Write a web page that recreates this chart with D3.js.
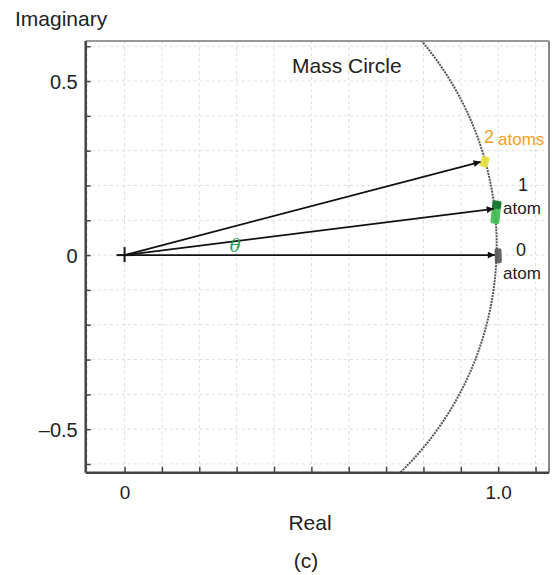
<!DOCTYPE html>
<html>
<head>
<meta charset="utf-8">
<script src="https://cdn.jsdelivr.net/npm/d3@7"></script>
<style>
  body { margin: 0; background: #fff; }
  svg text { font-family: "Liberation Sans", Arial, sans-serif; fill: #222; }
</style>
</head>
<body>
<div id="chart"></div>
<script>
// tick values and labels
var xTicks = [0, 0.1, 0.2, 0.3, 0.4, 0.5, 0.6, 0.7, 0.8, 0.9, 1.0, 1.1];
var xTickLabels = {"0": "0", "1": "1.0"};
var yTicks = [-0.6, -0.5, -0.4, -0.3, -0.2, -0.1, 0, 0.1, 0.2, 0.3, 0.4, 0.5, 0.6];
var yTickLabels = {"-0.5": "\u20130.5", "0": "0", "0.5": "0.5"};

// phasor tips (real, imaginary)
var atomNames = ["0 atom", "1 atom", "2 atoms"];
var tipReal = [0.991, 0.988, 0.953];
var tipImag = [0.000, 0.133, 0.268];
// marker centres on the mass circle
var markReal = [1.000, 0.994, 0.964];
var markImag = [-0.002, 0.123, 0.268];
var markColor = ["#555555", "#3dba4e", "#e6e03c"];

// the mass circle as drawn (centre and radii in data units)
var circleCx = 0.151, circleCy = 0.028, circleRx = 0.845, circleRy = 0.907;

var width = 552, height = 575;
var svg = d3.select("#chart").append("svg")
  .attr("width", width).attr("height", height);

var x = d3.scaleLinear().domain([-0.104, 1.136]).range([85.7, 549]);
var y = d3.scaleLinear().domain([-0.625, 0.615]).range([472.7, 41]);

// grid
var grid = svg.append("g");
grid.selectAll("line.v").data(xTicks.concat([-0.1])).enter().append("line")
  .attr("x1", d => x(d)).attr("x2", d => x(d))
  .attr("y1", y.range()[1]).attr("y2", y.range()[0])
  .attr("stroke", "#dedede").attr("stroke-dasharray", "3,3");
grid.selectAll("line.h").data(yTicks).enter().append("line")
  .attr("y1", d => y(d)).attr("y2", d => y(d))
  .attr("x1", x.range()[0]).attr("x2", x.range()[1])
  .attr("stroke", "#dedede").attr("stroke-dasharray", "3,3");

// clip for the circle
svg.append("clipPath").attr("id", "plotclip").append("rect")
  .attr("x", x.range()[0]).attr("y", y.range()[1])
  .attr("width", x.range()[1] - x.range()[0])
  .attr("height", y.range()[0] - y.range()[1]);

var angles = d3.range(-90, 91, 1).map(a => a * Math.PI / 180);
var circLine = d3.line()
  .x(t => x(circleCx + circleRx * Math.cos(t)))
  .y(t => y(circleCy + circleRy * Math.sin(t)));
svg.append("path")
  .attr("clip-path", "url(#plotclip)")
  .attr("d", circLine(angles))
  .attr("fill", "none").attr("stroke", "#555")
  .attr("stroke-width", 2).attr("stroke-dasharray", "2,1");

// frame
var fr = svg.append("g");
fr.append("line").attr("x1", x.range()[0]).attr("x2", x.range()[1])
  .attr("y1", y.range()[1]).attr("y2", y.range()[1])
  .attr("stroke", "#777").attr("stroke-width", 1.5);
fr.append("line").attr("x1", x.range()[1]).attr("x2", x.range()[1])
  .attr("y1", y.range()[1]).attr("y2", y.range()[0])
  .attr("stroke", "#888").attr("stroke-width", 2);

// axes with inward ticks
var xAxis = d3.axisTop(x).tickValues(xTicks).tickSize(6)
  .tickFormat(d => xTickLabels[String(Math.round(d * 10) / 10)] || "");
var gx = svg.append("g").attr("transform", "translate(0," + y.range()[0] + ")").call(xAxis);
gx.select(".domain").remove();
gx.selectAll(".tick line").attr("stroke", "#444").attr("stroke-width", 1.5);
gx.selectAll(".tick text").attr("y", 26).attr("dy", 0)
  .attr("font-size", 19).attr("fill", "#222").style("font-family", "Liberation Sans, Arial, sans-serif");

var yAxis = d3.axisRight(y).tickValues(yTicks).tickSize(5)
  .tickFormat(d => yTickLabels[String(Math.round(d * 10) / 10)] || "");
var gy = svg.append("g").attr("transform", "translate(" + x.range()[0] + ",0)").call(yAxis);
gy.select(".domain").remove();
gy.selectAll(".tick line").attr("stroke", "#444").attr("stroke-width", 1.5);
gy.selectAll(".tick text").attr("x", -8).attr("text-anchor", "end").attr("dy", "0.35em")
  .attr("font-size", 20).attr("fill", "#222").style("font-family", "Liberation Sans, Arial, sans-serif");

fr.append("line").attr("x1", x.range()[0]).attr("x2", x.range()[1])
  .attr("y1", y.range()[0]).attr("y2", y.range()[0])
  .attr("stroke", "#444").attr("stroke-width", 2.5);
fr.append("line").attr("x1", x.range()[0]).attr("x2", x.range()[0])
  .attr("y1", y.range()[1]).attr("y2", y.range()[0])
  .attr("stroke", "#444").attr("stroke-width", 2.5);
fr.raise();

// markers on the circle
var marks = svg.append("g");
var markH = [15, 23, 11], markW = [7, 9, 8];
atomNames.forEach(function(name, i) {
  var cxp = x(markReal[i]), cyp = y(markImag[i]);
  // tangent tilt of the circle at this point
  var t = Math.asin((markImag[i] - circleCy) / circleRy);
  var dx = -circleRx * Math.sin(t) * (x(1) - x(0));
  var dy = circleRy * Math.cos(t) * (y(0) - y(1));
  var rot = Math.atan2(dx, dy) * 180 / Math.PI;
  var g = marks.append("g").attr("transform", "translate(" + cxp + "," + cyp + ") rotate(" + (-rot) + ")");
  g.append("rect").attr("x", -markW[i] / 2).attr("y", -markH[i] / 2)
    .attr("width", markW[i]).attr("height", markH[i]).attr("rx", 2)
    .attr("fill", markColor[i]).attr("opacity", 0.9);
  if (i === 1) {
    g.append("rect").attr("x", -markW[i] / 2).attr("y", -markH[i] / 2)
      .attr("width", markW[i]).attr("height", 8).attr("rx", 2)
      .attr("fill", "#1f7a35");
  }
});

// arrows
svg.append("defs").append("marker").attr("id", "ah")
  .attr("viewBox", "0 0 10 10").attr("refX", 10).attr("refY", 5)
  .attr("markerWidth", 11).attr("markerHeight", 7)
  .attr("markerUnits", "userSpaceOnUse").attr("orient", "auto")
  .append("path").attr("d", "M0,0L10,5L0,10z").attr("fill", "#111");

svg.append("g").selectAll("line").data(atomNames).enter().append("line")
  .attr("x1", x(0)).attr("y1", y(0))
  .attr("x2", (d, i) => x(tipReal[i])).attr("y2", (d, i) => y(tipImag[i]))
  .attr("stroke", "#111").attr("stroke-width", 1.8)
  .attr("marker-end", "url(#ah)");

// origin cross
svg.append("line").attr("x1", x(0) - 8).attr("x2", x(0) + 8)
  .attr("y1", y(0)).attr("y2", y(0)).attr("stroke", "#111").attr("stroke-width", 2);
svg.append("line").attr("x1", x(0)).attr("x2", x(0))
  .attr("y1", y(0) - 8).attr("y2", y(0) + 7).attr("stroke", "#111").attr("stroke-width", 2);

// theta
svg.append("text").attr("x", x(0.296)).attr("y", y(0) - 3)
  .attr("text-anchor", "middle").attr("font-size", 18)
  .style("font-family", "DejaVu Serif, serif").style("font-style", "italic")
  .style("fill", "#1f9e55").text("\u03b8");

// labels
var lab = svg.append("g");
lab.append("text").attr("x", 292).attr("y", 73).attr("font-size", 21).text("Mass Circle");
lab.append("text").attr("x", 15).attr("y", 26).attr("font-size", 21).text("Imaginary");
lab.append("text").attr("x", 310).attr("y", 530).attr("text-anchor", "middle").attr("font-size", 21).text("Real");
lab.append("text").attr("x", 306).attr("y", 568).attr("text-anchor", "middle").attr("font-size", 21).text("(c)");

lab.append("text").attr("x", 484).attr("y", 143).attr("font-size", 18).style("fill", "#f4a11d").text("2");
lab.append("text").attr("x", 498).attr("y", 145).attr("font-size", 17).style("fill", "#f4a11d").text("atoms");
lab.append("text").attr("x", 523).attr("y", 191).attr("text-anchor", "middle").attr("font-size", 18).text("1");
lab.append("text").attr("x", 522).attr("y", 214).attr("text-anchor", "middle").attr("font-size", 17).text("atom");
lab.append("text").attr("x", 521).attr("y", 256).attr("text-anchor", "middle").attr("font-size", 18).text("0");
lab.append("text").attr("x", 522).attr("y", 279).attr("text-anchor", "middle").attr("font-size", 17).text("atom");
</script>
</body>
</html>
